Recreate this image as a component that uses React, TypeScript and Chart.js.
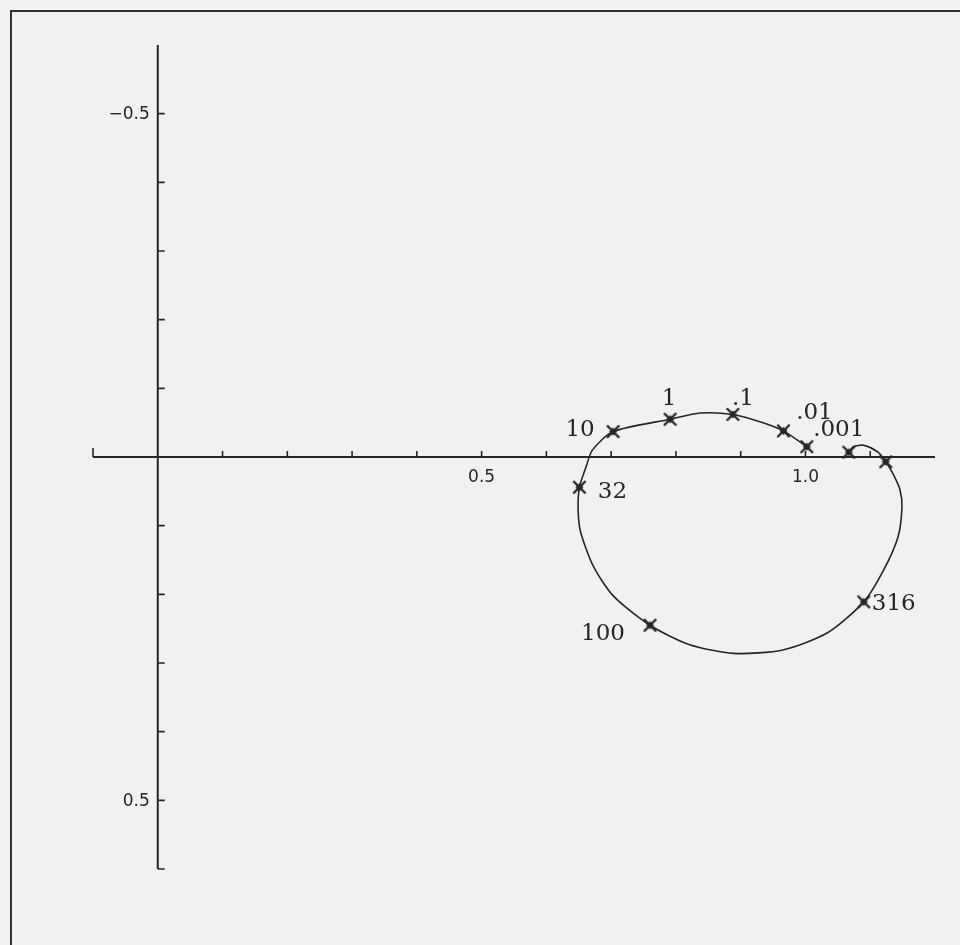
import { useEffect, useRef } from 'react';
import { Chart, registerables } from 'chart.js';

Chart.register(...registerables);

// Locus of the frequency response (real part, imaginary part), traced from low to high frequency
const curveRe = [1.002, 0.966, 0.931, 0.888, 0.838, 0.791, 0.703, 0.671, 0.661, 0.651, 0.649, 0.653, 0.673, 0.704, 0.760, 0.820, 0.889, 0.965, 1.034, 1.090, 1.121, 1.143, 1.149, 1.146, 1.136, 1.124, 1.112, 1.090, 1.074, 1.067];
const curveIm = [-0.015, -0.038, -0.051, -0.062, -0.064, -0.055, -0.037, -0.010, 0.015, 0.044, 0.077, 0.110, 0.160, 0.203, 0.245, 0.273, 0.286, 0.281, 0.256, 0.211, 0.164, 0.116, 0.073, 0.048, 0.026, 0.007, -0.007, -0.017, -0.015, -0.007];

// Marked frequencies on the locus
const markerFreq = ['.001', '.01', '.1', '1', '10', '32', '100', '316', '', ''];
const markerRe = [1.002, 0.966, 0.888, 0.791, 0.703, 0.651, 0.760, 1.090, 1.124, 1.067];
const markerIm = [-0.015, -0.038, -0.062, -0.055, -0.037, 0.044, 0.245, 0.211, 0.007, -0.007];

// Axes
const xAxisMin = -0.1;
const xAxisMax = 1.2;
const yAxisMin = -0.6;
const yAxisMax = 0.6;
const xTickValues = [-0.1, 0.1, 0.2, 0.3, 0.4, 0.5, 0.6, 0.7, 0.8, 0.9, 1.0, 1.1];
const yTickValues = [-0.5, -0.4, -0.3, -0.2, -0.1, 0.1, 0.2, 0.3, 0.4, 0.5, 0.6];
const xLabelValues = [0.5, 1.0];
const xLabelTexts = ['0.5', '1.0'];
const yLabelValues = [-0.5, 0.5];
const yLabelTexts = ['\u22120.5', '0.5'];

// Where each frequency label sits relative to its marker (pixels)
const labelOffset: Record<string, [number, number]> = {
  '.001': [32, -18],
  '.01': [31, -19],
  '.1': [10, -16],
  '1': [-1, -21],
  '10': [-33, -3],
  '32': [33, 4],
  '100': [-47, 8],
  '316': [30, 1],
};

const INK = '#262626';
const PAPER = '#f1f1f1';

function makeMarker(): HTMLCanvasElement {
  const c = document.createElement('canvas');
  c.width = 15;
  c.height = 15;
  const g = c.getContext('2d')!;
  g.strokeStyle = INK;
  g.fillStyle = INK;
  g.lineWidth = 2.4;
  g.lineCap = 'round';
  g.beginPath();
  g.moveTo(2, 2);
  g.lineTo(13, 13);
  g.moveTo(13, 2);
  g.lineTo(2, 13);
  g.stroke();
  g.beginPath();
  g.moveTo(7.5, 3.5);
  g.lineTo(11.5, 7.5);
  g.lineTo(7.5, 11.5);
  g.lineTo(3.5, 7.5);
  g.closePath();
  g.fill();
  return c;
}

const paperPlugin = {
  id: 'paper',
  beforeDraw(chart: any) {
    const { ctx, width, height } = chart;
    ctx.save();
    ctx.fillStyle = PAPER;
    ctx.fillRect(0, 0, width, height);
    ctx.strokeStyle = '#333';
    ctx.lineWidth = 2;
    ctx.strokeRect(11, 11, width + 20, height + 20);
    ctx.restore();
  },
};

const crossAxesPlugin = {
  id: 'crossAxes',
  beforeDatasetsDraw(chart: any) {
    const { ctx } = chart;
    const xs = chart.scales.x;
    const ys = chart.scales.y;
    const x0 = xs.getPixelForValue(0);
    const y0 = ys.getPixelForValue(0);
    ctx.save();
    ctx.strokeStyle = INK;
    ctx.lineWidth = 2;
    ctx.lineCap = 'butt';
    // axis lines
    ctx.beginPath();
    ctx.moveTo(xs.getPixelForValue(xAxisMin), y0);
    ctx.lineTo(xs.getPixelForValue(xAxisMax), y0);
    ctx.moveTo(x0, ys.getPixelForValue(yAxisMin));
    ctx.lineTo(x0, ys.getPixelForValue(yAxisMax));
    ctx.stroke();
    // inward tick marks
    ctx.lineWidth = 1.6;
    ctx.beginPath();
    xTickValues.forEach((v) => {
      const px = xs.getPixelForValue(v);
      ctx.moveTo(px, y0);
      ctx.lineTo(px, y0 - (v === xAxisMin ? 9 : 6));
    });
    yTickValues.forEach((v) => {
      const py = ys.getPixelForValue(v);
      ctx.moveTo(x0, py);
      ctx.lineTo(x0 + 7, py);
    });
    ctx.stroke();
    // tick labels
    ctx.fillStyle = INK;
    ctx.font = '17px "DejaVu Sans"';
    ctx.textBaseline = 'middle';
    ctx.textAlign = 'center';
    xLabelValues.forEach((v, i) => {
      ctx.fillText(xLabelTexts[i], xs.getPixelForValue(v), y0 + 21);
    });
    ctx.textAlign = 'right';
    yLabelValues.forEach((v, i) => {
      ctx.fillText(yLabelTexts[i], x0 - 8, ys.getPixelForValue(v) + 1);
    });
    ctx.restore();
  },
  afterDatasetsDraw(chart: any) {
    const { ctx } = chart;
    const xs = chart.scales.x;
    const ys = chart.scales.y;
    ctx.save();
    ctx.fillStyle = INK;
    ctx.font = '23px "DejaVu Serif"';
    ctx.textAlign = 'center';
    ctx.textBaseline = 'middle';
    markerFreq.forEach((f, i) => {
      if (!f) return;
      const [dx, dy] = labelOffset[f] || [0, 0];
      const px = xs.getPixelForValue(markerRe[i]);
      const py = ys.getPixelForValue(markerIm[i]);
      ctx.fillText(f, px + dx, py + dy + 1);
    });
    ctx.restore();
  },
};

export default function App() {
  const ref = useRef<HTMLCanvasElement | null>(null);

  useEffect(() => {
    if (!ref.current) return;
    const marker = makeMarker();
    const chart = new Chart(ref.current, {
      type: 'scatter',
      data: {
        datasets: [
          {
            label: 'locus',
            data: curveRe.map((x, i) => ({ x, y: curveIm[i] })),
            showLine: true,
            borderColor: INK,
            borderWidth: 1.6,
            tension: 0.25,
            pointRadius: 0,
            fill: false,
          },
          {
            label: 'frequencies',
            data: markerRe.map((x, i) => ({ x, y: markerIm[i] })),
            showLine: false,
            pointStyle: marker as any,
            pointRadius: 7,
            borderColor: INK,
            backgroundColor: INK,
          },
        ],
      },
      options: {
        responsive: false,
        animation: false,
        events: [],
        clip: false as any,
        layout: { padding: { left: 93, right: 25, top: 45, bottom: 76 } },
        plugins: {
          legend: { display: false },
          title: { display: false },
          tooltip: { enabled: false },
        },
        scales: {
          x: { type: 'linear', min: xAxisMin, max: xAxisMax, display: false },
          y: { type: 'linear', min: yAxisMin, max: yAxisMax, reverse: true, display: false },
        },
      },
      plugins: [paperPlugin, crossAxesPlugin],
    });
    return () => chart.destroy();
  }, []);

  return (
    <div style={{ position: 'fixed', left: 0, top: 0, width: 960, height: 945 }}>
      <canvas ref={ref} width={960} height={945} style={{ display: 'block' }} />
    </div>
  );
}
